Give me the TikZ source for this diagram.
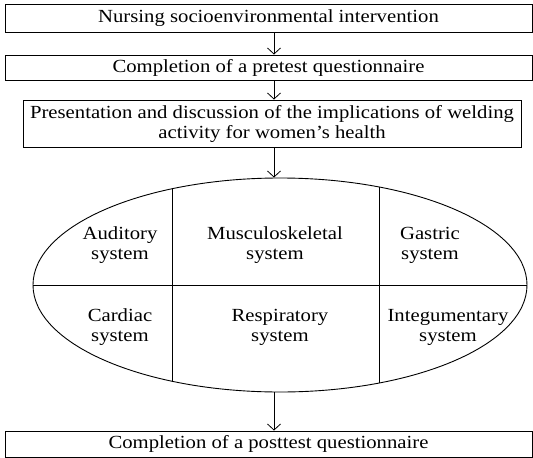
\documentclass[tikz,border=0pt]{standalone}
\usepackage{fontspec}
\setmainfont{Liberation Serif}[FakeStretch=1.12]
\usetikzlibrary{arrows.meta,shapes.geometric}
\begin{document}
\begin{tikzpicture}[x=1pt,y=-1pt,
  txt/.style={font=\fontsize{18.5}{20}\selectfont},
  boxnode/.style={draw,line width=0.9pt,inner sep=0pt,txt,align=center},
  cell/.style={txt,align=center,inner sep=0pt},
  arr/.style={line width=0.8pt,-{Straight Barb[length=6pt,width=13pt]}}]
\useasboundingbox (0,0) rectangle (533,458);
\node[boxnode,minimum width=527pt,minimum height=28pt] (b1) at (268.5,18) {Nursing socioenvironmental intervention};
\node[boxnode,minimum width=527pt,minimum height=25pt] (b2) at (268.5,67.5) {Completion of a pretest questionnaire};
\node[boxnode,minimum width=498pt,minimum height=47pt] (b3) at (272,123.5) {Presentation and discussion of the implications of welding\\activity for women's health};
\node[draw,ellipse,line width=0.9pt,inner sep=0pt,minimum width=494pt,minimum height=214pt] (el) at (280,285) {};
\node[boxnode,minimum width=527pt,minimum height=26pt] (b4) at (268.5,444) {Completion of a posttest questionnaire};
\coordinate (ax) at (274,0);
\begin{scope}
  \clip (280,285) ellipse [x radius=247pt, y radius=107pt];
  \draw[line width=0.9pt] (el.west) -- (el.east);
  \draw[line width=0.9pt] (172,150) -- (172,420);
  \draw[line width=0.9pt] (379,150) -- (379,420);
\end{scope}
\node[cell] (c1) at (120,245) {Auditory\\system};
\node[cell] (c2) at (275,245) {Musculoskeletal\\system};
\node[cell] (c3) at (430,245) {Gastric\\system};
\node[cell] (c4) at (120,327) {Cardiac\\system};
\node[cell] (c5) at (280,327) {Respiratory\\system};
\node[cell] (c6) at (448,327) {Integumentary\\system};
\draw[arr] (b1.south -| ax) -- (b2.north -| ax);
\draw[arr] (b2.south -| ax) -- (b3.north -| ax);
\draw[arr] (b3.south -| ax) -- (el.north -| ax);
\draw[arr] (el.south -| ax) -- (b4.north -| ax);
\end{tikzpicture}
\end{document}
